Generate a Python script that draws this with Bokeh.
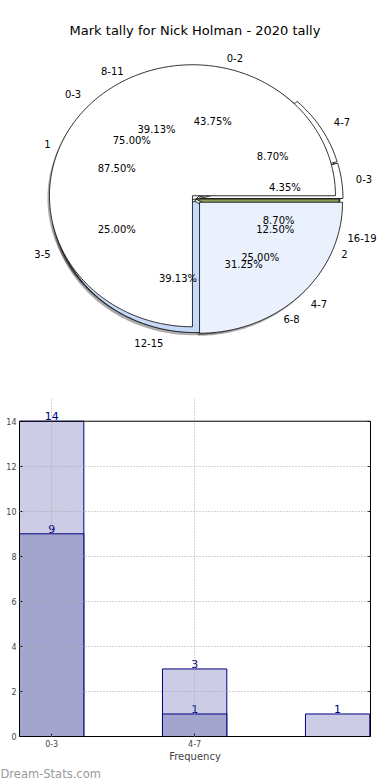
import numpy as np
from bokeh.plotting import figure
from bokeh.models import (ColumnDataSource, Label, LabelSet, FixedTicker, Range1d, Span,
                          Title, LinearAxis)
from bokeh.embed import file_html
from bokeh.resources import INLINE
from bokeh.core.properties import value

# ---------------- data ----------------
title_text = "Mark tally for Nick Holman - 2020 tally"

pie_a_labels = ["0-3", "4-7", "8-11", "12-15", "16-19"]
pie_a_counts = [1, 2, 9, 9, 2]
pie_b_labels = ["0-2", "3-5", "6-8"]
pie_b_counts = [7, 4, 5]
pie_c_labels = ["1", "2"]
pie_c_counts = [7, 1]
pie_d_labels = ["0-3", "4-7"]
pie_d_counts = [3, 1]

bar_categories = ["0-3", "4-7", "8-11"]
bar_back_values = [14, 3, 1]
bar_front_values = [9, 1]
y_ticks = [0, 2, 4, 6, 8, 10, 12, 14]
x_tick_labels = ["0-3", "4-7"]
x_axis_title = "Frequency"
watermark = "Dream-Stats.com"

FONT = "DejaVu Sans"

# ---------------- pie figure ----------------
RX, RY = 143.0, 131.0
W1, H1 = 390, 398
CXP, CYP = 195.5, H1 - 198.5          # centre, px from left / from bottom
p1 = figure(width=W1, height=H1,
            x_range=Range1d(-CXP / RX, (W1 - CXP) / RX),
            y_range=Range1d(-CYP / RY, (H1 - CYP) / RY),
            output_backend="svg", toolbar_location=None,
            x_axis_location=None, y_axis_location=None, title=None,
            min_border_left=0, min_border_right=0, min_border_top=0, min_border_bottom=0)
p1.outline_line_color = None
p1.grid.visible = False


def pie_geometry(labels, counts, explode, shift=(0.0, 0.0)):
    total = float(sum(counts))
    xs, ys, info = [], [], []
    start = 0.0
    for lab, c, e in zip(labels, counts, explode):
        frac = c / total
        t1 = 2 * np.pi * start
        t2 = 2 * np.pi * (start + frac)
        mid = 0.5 * (t1 + t2)
        ox = e * np.cos(mid) + shift[0]
        oy = e * np.sin(mid) + shift[1]
        th = np.linspace(t1, t2, max(3, int(frac * 360) + 2))
        xs.append(list(np.concatenate([[ox], ox + np.cos(th), [ox]])))
        ys.append(list(np.concatenate([[oy], oy + np.sin(th), [oy]])))
        info.append((lab, frac, mid, ox, oy))
        start += frac
    return xs, ys, info


pies = [
    (pie_c_labels, pie_c_counts, [0.0, 0.0], ["#ffffff", "#8a9e58"]),
    (pie_b_labels, pie_b_counts, [0.0, 0.0, 0.0], ["#ffffff", "#eaf1fd", "#eaf1fd"]),
    (pie_a_labels, pie_a_counts, [0.028, 0.028, 0.0, 0.02, 0.0],
     ["#ffffff", "#ffffff", "#ffffff", "#c6d9f9", "#8a9e58"]),
    (pie_d_labels, pie_d_counts, [0.035, 0.035], ["#ffffff", "#eaf1fd"]),
]

# shadows
for labels, counts, explode, colors in pies:
    sx, sy, _ = pie_geometry(labels, counts, explode, shift=(-0.014, -0.02))
    p1.patches(sx, sy, fill_color="#000000", fill_alpha=0.33, line_color=None)

# wedges
all_info = []
for labels, counts, explode, colors in pies:
    wx, wy, info = pie_geometry(labels, counts, explode)
    p1.patches(wx, wy, fill_color=colors, line_color="#1a1a1a", line_width=0.9)
    all_info.extend(info)

# labels
lx_l, ly_l, lt_l, lx_r, ly_r, lt_r, px, py, pt = [], [], [], [], [], [], [], [], []
for lab, frac, mid, ox, oy in all_info:
    x = ox + 1.1 * np.cos(mid)
    y = oy + 1.1 * np.sin(mid)
    if x > 0:
        lx_l.append(x); ly_l.append(y); lt_l.append(lab)
    else:
        lx_r.append(x); ly_r.append(y); lt_r.append(lab)
    px.append(ox + 0.6 * np.cos(mid))
    py.append(oy + 0.6 * np.sin(mid))
    pt.append("%.2f%%" % (frac * 100))

p1.text(lx_l, ly_l, text=lt_l, text_align="left", text_baseline="middle",
        text_font=value(FONT), text_font_size="10px", text_color="#000000")
p1.text(lx_r, ly_r, text=lt_r, text_align="right", text_baseline="middle",
        text_font=value(FONT), text_font_size="10px", text_color="#000000")
p1.text(px, py, text=pt, text_align="center", text_baseline="middle",
        text_font=value(FONT), text_font_size="10px", text_color="#000000")

p1.add_layout(Label(x=(194.5 - CXP) / RX, y=(H1 - 30 - CYP) / RY, text=title_text,
                    text_align="center", text_baseline="middle",
                    text_font=FONT, text_font_size="13px", text_color="#000000"))

# ---------------- bar figure ----------------
W2, H2 = 390, 382
Y_MAX = 14
PX_PER_Y = 319.0 / Y_MAX
TOP_PAD = 421 - H1                          # px of free space above the box
xr = Range1d(-0.225, 2.23)
yr = Range1d(0, Y_MAX + TOP_PAD / PX_PER_Y)  # room above the box for the value label
p2 = figure(width=W2, height=H2, x_range=xr, y_range=yr,
            output_backend="svg", toolbar_location=None, title=None,
            min_border_left=19, min_border_right=20,
            min_border_top=0, min_border_bottom=40)
p2.outline_line_color = None

xs_back = list(range(len(bar_back_values)))
xs_front = list(range(len(bar_front_values)))
p2.vbar(x=xs_back, top=bar_back_values, width=0.45, bottom=0,
        fill_color="#ccccE6", line_color="#000080", line_width=1)
p2.vbar(x=xs_front, top=bar_front_values, width=0.45, bottom=0,
        fill_color="#a3a5cf", line_color="#000080", line_width=1)

src_back = ColumnDataSource(dict(x=xs_back, y=bar_back_values,
                                 t=[str(v) for v in bar_back_values]))
src_front = ColumnDataSource(dict(x=xs_front, y=bar_front_values,
                                  t=[str(v) for v in bar_front_values]))
for src in (src_back, src_front):
    p2.add_layout(LabelSet(x="x", y="y", text="t", source=src, y_offset=1,
                           text_align="center", text_baseline="bottom",
                           text_font=value(FONT), text_font_size="11px",
                           text_color="#000080"))

# box top edge at the axis limit
p2.add_layout(Span(location=Y_MAX, dimension="width", line_color="#000000",
                   line_width=1, level="overlay"))

# right-hand axis: box edge with inward ticks, no labels
right_axis = LinearAxis(ticker=FixedTicker(ticks=y_ticks), bounds=(0, Y_MAX),
                        major_tick_in=3, major_tick_out=0, minor_tick_line_color=None,
                        major_label_text_alpha=0, major_label_text_font_size="8px",
                        axis_line_color="#000000", major_tick_line_color="#000000")
p2.add_layout(right_axis, "right")

p2.xaxis.ticker = FixedTicker(ticks=list(range(len(x_tick_labels))))
p2.xaxis.major_label_overrides = {i: lab for i, lab in enumerate(x_tick_labels)}
p2.yaxis.ticker = FixedTicker(ticks=y_ticks)
p2.yaxis.bounds = (0, Y_MAX)
p2.xaxis.axis_label = x_axis_title
p2.xaxis.axis_label_text_font = FONT
p2.xaxis.axis_label_text_font_size = "10px"
p2.xaxis.axis_label_text_font_style = "normal"
p2.xaxis.axis_label_standoff = 1
for ax in (p2.xaxis[0], p2.yaxis[0]):
    ax.major_tick_in = 3
    ax.major_tick_out = 0
    ax.minor_tick_line_color = None
    ax.major_label_text_font = FONT
    ax.major_label_text_font_size = "8px"
    ax.major_label_standoff = 3
    ax.axis_line_color = "#000000"
    ax.major_tick_line_color = "#000000"
for g in (p2.xgrid, p2.ygrid):
    g.grid_line_color = "#a8a8a8"
    g.grid_line_dash = "1 2"
    g.grid_line_width = 1
    g.level = "overlay"
p2.xgrid.ticker = FixedTicker(ticks=list(range(len(x_tick_labels))))
p2.xgrid.bounds = (0, Y_MAX)
p2.ygrid.ticker = FixedTicker(ticks=y_ticks[1:-1])

p2.add_layout(Title(text=watermark, align="left", offset=-19, standoff=0,
                    text_font=FONT, text_font_size="11.5px", text_font_style="normal",
                    text_color="#9a9a9a"), "below")

# two separate roots, stacked, so the two frames are laid out independently
open("out.html", "w").write(file_html([p1, p2], INLINE))
